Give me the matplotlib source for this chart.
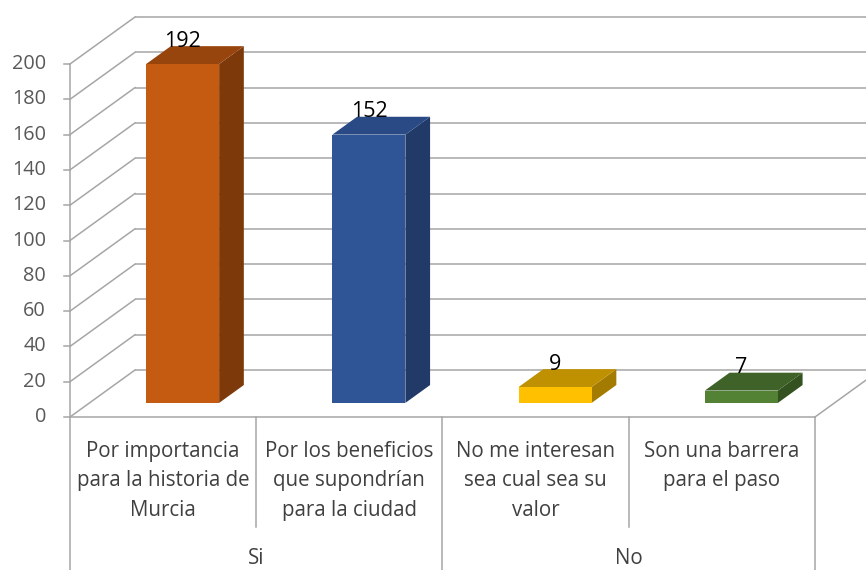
import matplotlib
matplotlib.use("Agg")
import matplotlib.pyplot as plt
from matplotlib.patches import Polygon

plt.rcParams['font.family'] = ['Open Sans', 'DejaVu Sans']

# ---- data ----
categories = ["Por importancia\npara la historia de\nMurcia",
              "Por los beneficios\nque supondrían\npara la ciudad",
              "No me interesan\nsea cual sea su\nvalor",
              "Son una barrera\npara el paso"]
groups = ["Si", "No"]
group_sizes = [2, 2]
values = [192, 152, 9, 7]
yticks = list(range(0, 201, 20))

front_colors = ["#C55A11", "#2F5597", "#FFC000", "#548235"]
top_colors = ["#97440D", "#294A85", "#BF9000", "#3F6228"]
side_colors = ["#7E390B", "#213A68", "#A37B00", "#33521F"]

# ---- geometry (in data units) ----
px_per_cat = 186.25
px_per_val = 1.765
ddx = 65 / px_per_cat      # depth offset in x (category units)
ddy = 47 / px_per_val      # depth offset in y (value units)
bar_w = 0.392
s0 = 0.30                  # start of bar in depth fraction
dep = 0.38                 # bar depth fraction
ymax = 200
n = len(values)

fig = plt.figure(figsize=(8.66, 5.70), dpi=100)
ax = fig.add_axes([0, 0, 1, 1])
ax.set_xlim(-70 / px_per_cat, (866 - 70) / px_per_cat)
ax.set_ylim(-(570 - 417) / px_per_val, 417 / px_per_val)
ax.axis('off')

grid_c = "#A6A6A6"
lw = 1.1

# back wall and side wall gridlines
for v in yticks:
    ax.plot([ddx, n + ddx], [v + ddy, v + ddy], color=grid_c, lw=lw, zorder=1,
            solid_capstyle='butt')
    ax.plot([0, ddx], [v, v + ddy], color=grid_c, lw=lw, zorder=1)
    ax.plot([-6 / px_per_cat, 0], [v, v], color=grid_c, lw=lw, zorder=1)
    ax.text(-24 / px_per_cat, v, str(v), ha='right', va='center',
            fontsize=14.3, color="#595959")

# value axis line
ax.plot([0, 0], [0, ymax], color=grid_c, lw=lw, zorder=1)
# floor front and right edge
ax.plot([0, n], [0, 0], color=grid_c, lw=lw, zorder=1)
ax.plot([n, n + ddx], [0, ddy], color=grid_c, lw=lw, zorder=1)

# category table lines
ybot = ax.get_ylim()[0]
ymid = -(527 - 417) / px_per_val
bounds = [0]
for g in group_sizes:
    bounds.append(bounds[-1] + g)
for i in range(n + 1):
    y_end = ybot if i in bounds else ymid
    ax.plot([i, i], [0, y_end], color=grid_c, lw=lw, zorder=1)

# bars
for i, v in enumerate(values):
    x0 = i + 0.5 - bar_w / 2 + s0 * ddx
    x1 = x0 + bar_w
    y0 = s0 * ddy
    y1 = y0 + v
    dx = dep * ddx
    dy = dep * ddy
    front = [(x0, y0), (x1, y0), (x1, y1), (x0, y1)]
    side = [(x1, y0), (x1 + dx, y0 + dy), (x1 + dx, y1 + dy), (x1, y1)]
    top = [(x0, y1), (x1, y1), (x1 + dx, y1 + dy), (x0 + dx, y1 + dy)]
    ax.add_patch(Polygon(side, closed=True, fc=side_colors[i], ec='none', zorder=3))
    ax.add_patch(Polygon(top, closed=True, fc=top_colors[i], ec='none', zorder=3))
    ax.add_patch(Polygon(front, closed=True, fc=front_colors[i], ec='none', zorder=4))
    ax.text((x0 + x1) / 2, y1 + dy + 5 / px_per_val, str(v), ha='center',
            va='center', fontsize=15.5, color='black', zorder=6)

# category labels
for i, c in enumerate(categories):
    ax.text(i + 0.5, -(441 - 417) / px_per_val, c, ha='center', va='top',
            fontsize=14.8, color="#404040", linespacing=1.52, zorder=5)

# group labels
start = 0
for g, size in zip(groups, group_sizes):
    ax.text(start + size / 2, -(558 - 417) / px_per_val, g, ha='center',
            va='center', fontsize=14.8, color="#404040")
    start += size

fig.savefig("out.png", dpi=100)
